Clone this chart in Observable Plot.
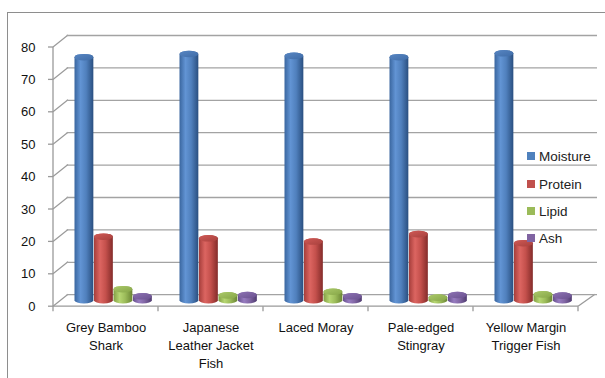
<!DOCTYPE html>
<html>
<head>
<meta charset="utf-8">
<script src="https://cdn.jsdelivr.net/npm/d3@7"></script>
<script src="https://cdn.jsdelivr.net/npm/@observablehq/plot@0.6"></script>
<style>
  html, body { margin: 0; padding: 0; background: #fff; }
  #wrap { position: relative; width: 605px; height: 378px; overflow: hidden; font-family: "Liberation Sans", Arial, sans-serif; }
  #border { position: absolute; left: 7px; top: 12px; width: 700px; height: 500px; border: 1.5px solid #8e8e8e; box-sizing: border-box; }
  #chart { position: absolute; left: 0; top: 0; }
  .leg { position: absolute; left: 527px; height: 16px; display: flex; align-items: center; font-size: 13.5px; color: #222; white-space: nowrap; }
  .leg span.sw { display: inline-block; width: 8px; height: 8px; margin-right: 4px; }
</style>
</head>
<body>
<div id="wrap">
  <div id="border"></div>
  <div id="chart"></div>
</div>
<script>
// ---- data ----
const categories = ["Grey Bamboo Shark", "Japanese Leather Jacket Fish", "Laced Moray", "Pale-edged Stingray", "Yellow Margin Trigger Fish"];
const tickLabels = ["Grey Bamboo\nShark", "Japanese\nLeather Jacket\nFish", "Laced Moray", "Pale-edged\nStingray", "Yellow Margin\nTrigger Fish"];
const seriesNames = ["Moisture", "Protein", "Lipid", "Ash"];
const moisture = [75.0, 76.0, 75.4, 75.0, 76.2];
const protein  = [19.6, 19.1, 18.1, 20.4, 17.6];
const lipid    = [3.4, 1.5, 2.6, 0.8, 1.8];
const ash      = [1.2, 1.6, 1.2, 1.6, 1.4];
const yTicks   = [0, 10, 20, 30, 40, 50, 60, 70, 80];

const seriesValues = [moisture, protein, lipid, ash];
const baseColors = ["#4F81BD", "#C0504D", "#9BBB59", "#8064A2"];
const grads = [
  ["#3a669f", "#6294d4", "#5080bd", "#2a4f80"],
  ["#a63e3b", "#dc6561", "#c4504c", "#842c2a"],
  ["#829f44", "#b6d672", "#9cbc5a", "#6a8534"],
  ["#664f8c", "#977cc0", "#8166a4", "#4f3b70"]
];
const capGrads = [
  ["#5886c2", "#3f6ca8"],
  ["#cf5a56", "#a8403d"],
  ["#abc96a", "#86a647"],
  ["#8d72b3", "#6a518f"]
];

const table = [];
seriesNames.forEach((s, si) => categories.forEach((c, ci) => table.push({fish: c, series: s, si, value: seriesValues[si][ci]})));

const W = 605, H = 378;
const mL = 51.7, mR = 25, mT = 41, mB = 77.8;
const band = (W - mL - mR) / categories.length;
const barW = 19.5, groupOffset = 21.5;
const depth = 6; // half-depth offset in px (front/back)

const marks = [
  // back-wall gridlines
  Plot.ruleY(yTicks, {y: d => d, dx: 15, dy: -depth, insetRight: -2, stroke: "#a3a3a3", strokeWidth: 1.3})
];

seriesNames.forEach((s, si) => {
  const d = table.filter(r => r.si === si);
  const insetLeft = groupOffset + si * barW;
  const insetRight = band - insetLeft - barW;
  marks.push(Plot.barY(d, {
    x: "fish", y1: 0, y2: "value",
    insetLeft, insetRight, insetTop: -3.3, insetBottom: -3.3,
    rx: barW / 2, ry: 3.3,
    fill: `url(#body${si})`
  }));
  marks.push(Plot.barY(d, {
    x: "fish", y1: "value", y2: "value",
    insetLeft, insetRight, insetTop: -3.3, insetBottom: -3.3,
    rx: barW / 2, ry: 3.3,
    fill: `url(#cap${si})`
  }));
});

// y tick labels (front plane)
marks.push(Plot.text(yTicks, {y: d => d, text: d => String(d), frameAnchor: "left", textAnchor: "end", dx: -16.7, dy: depth, fontSize: 13, fill: "#111"}));
// category labels
marks.push(Plot.text(categories, {x: d => d, text: (d, i) => tickLabels[i], frameAnchor: "bottom", lineAnchor: "top", dy: 18, fontSize: 13, lineHeight: 1.41, fill: "#111"}));

const plot = Plot.plot({
  width: W, height: H,
  marginLeft: mL, marginRight: mR, marginTop: mT, marginBottom: mB,
  x: {domain: categories, padding: 0, axis: null},
  y: {domain: [0, 80], axis: null},
  style: {fontFamily: "Liberation Sans, Arial, sans-serif", fontSize: "13px", background: "transparent", overflow: "visible"},
  marks
});

// gradients
const svg = d3.select(plot);
const defs = svg.insert("defs", ":first-child");
grads.forEach((g, i) => {
  const lg = defs.append("linearGradient").attr("id", `body${i}`).attr("x1", 0).attr("x2", 1).attr("y1", 0).attr("y2", 0);
  [[0, g[0]], [0.32, g[1]], [0.62, g[2]], [1, g[3]]].forEach(([o, c]) => lg.append("stop").attr("offset", o).attr("stop-color", c));
});
capGrads.forEach((g, i) => {
  const lg = defs.append("linearGradient").attr("id", `cap${i}`).attr("x1", 0).attr("x2", 1).attr("y1", 0).attr("y2", 1);
  lg.append("stop").attr("offset", 0).attr("stop-color", g[0]);
  lg.append("stop").attr("offset", 1).attr("stop-color", g[1]);
});

// 3D frame lines via the plot's own scales
const xs = plot.scale("x"), ys = plot.scale("y");
const x0 = xs.apply(categories[0]);
const xEnd = xs.apply(categories[categories.length - 1]) + xs.bandwidth;
const frame = svg.insert("g", "defs + *").attr("stroke", "#9a9a9a").attr("stroke-width", 1.3).attr("fill", "none");
const line = (a, b, c, d) => frame.append("line").attr("x1", a).attr("y1", b).attr("x2", c).attr("y2", d);
const y0 = ys.apply(0);
line(x0, ys.apply(0) + depth, x0, ys.apply(80) + depth);               // front vertical axis
yTicks.forEach(v => {
  const yy = ys.apply(v);
  line(x0, yy + depth, x0 + 15, yy - depth);                           // side diagonals
  line(x0 - 5, yy + depth, x0, yy + depth);                            // y ticks
});
line(x0, y0 + depth, xEnd, y0 + depth);                                 // floor front edge
line(xEnd, y0 + depth, xEnd + 17, y0 - depth);                          // floor right edge
for (let i = 0; i <= categories.length; i++) {
  const bx = x0 + i * xs.bandwidth;
  line(bx, y0 + depth, bx, y0 + depth + 5);                             // category ticks
}

document.getElementById("chart").appendChild(plot);

// legend
const legendTops = [156, 184, 211, 238.3];
const wrap = document.getElementById("wrap");
seriesNames.forEach((s, i) => {
  const el = document.createElement("div");
  el.className = "leg";
  el.style.top = (legendTops[i] - 8) + "px";
  el.innerHTML = `<span class="sw" style="background:${baseColors[i]}"></span>${s}`;
  wrap.appendChild(el);
});
</script>
</body>
</html>
